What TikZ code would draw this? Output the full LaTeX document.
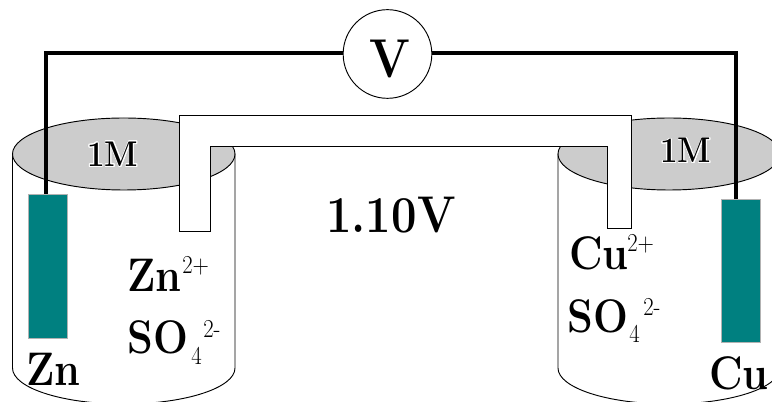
\documentclass[tikz,border=0pt]{standalone}
\usepackage{graphicx}
\usepackage{contour}
\contourlength{0.6pt}
\contournumber{24}
\newcommand{\tallbox}[1]{\scalebox{1}[1.14]{#1}}
\begin{document}
\begin{tikzpicture}[x=0.75pt,y=-0.75pt,
  lbl/.style={inner sep=0pt,anchor=base west,font=\bfseries\fontsize{31}{31}\selectfont},
  sup/.style={inner sep=0pt,anchor=base west,font=\fontsize{17}{17}\selectfont},
  mol/.style={inner sep=0pt,anchor=base west,font=\bfseries\fontsize{23.5}{24}\selectfont},
  beaker/.style={draw=black,line width=0.7pt,fill=white},
  soln/.style={draw=black,line width=0.7pt,fill=black!20},
  electrode/.style={draw=black!30,line width=0.5pt,fill=teal!100!black,inner sep=0pt,minimum width=29.25pt},
  wire/.style={draw=black,line width=2.3pt,line join=miter}]
\useasboundingbox (0,0) rectangle (772,402);
\clip (0,0) rectangle (772,402);
% beakers
\path[beaker] (12.5,154) -- (12.5,368) arc[start angle=180,end angle=0,x radius=111.25,y radius=36] -- (235,154) -- cycle;
\path[soln] (123.75,154) ellipse[x radius=111.25,y radius=36];
\path[beaker] (558,154) -- (558,368) arc[start angle=180,end angle=0,x radius=111,y radius=36] -- (780,154) -- cycle;
\path[soln] (669,154) ellipse[x radius=111,y radius=36];
% salt bridge
\path[draw=black,line width=0.7pt,fill=white] (179.5,115.5) -- (631.5,115.5) -- (631.5,228) -- (607,228) -- (607,146) -- (210.5,146) -- (210.5,231) -- (179.5,231) -- cycle;
% electrodes
\node[electrode,minimum height=108pt,anchor=north west] (zn) at (28,194.5) {};
\node[electrode,minimum height=107.5pt,anchor=north west] (cu) at (721,199) {};
% meter
\node[circle,draw=black,line width=0.7pt,fill=white,minimum size=66.5pt,inner sep=0pt] (v) at (387.5,54) {};
\node[inner sep=0pt,anchor=base,font=\bfseries\fontsize{36}{36}\selectfont] (vt) at (389.5,78) {\tallbox{V}};
\coordinate (zc) at (46,53);
\coordinate (cc) at (736,53);
\draw[wire] (v.west |- zc) -- (zc) -- (zc |- zn.north);
\draw[wire] (v.east |- cc) -- (cc) -- (cc |- cu.north);
% texts
\node[mol] (m1) at (87,166.5) {\contour{white}{\tallbox{1M}}};
\node[mol] (m2) at (660,163) {\contour{white}{\tallbox{1M}}};
\node[lbl,font=\bfseries\fontsize{34}{34}\selectfont] (volts) at (326,233) {\tallbox{1.10V}};
\node[lbl] (zi) at (127,292) {\tallbox{Zn}};
\node[sup] (zis) at (182,274) {\tallbox{2+}};
\node[lbl] (so1) at (127,354) {\tallbox{SO}};
\node[sup] (so1a) at (191,365) {\tallbox{4}};
\node[sup] (so1b) at (203,338) {\tallbox{2-}};
\node[lbl] (zl) at (26,386) {\tallbox{Zn}};
\node[lbl] (ci) at (569,270) {\tallbox{Cu}};
\node[sup] (cis) at (627,252) {\tallbox{2+}};
\node[lbl] (so2) at (567,333) {\tallbox{SO}};
\node[sup] (so2a) at (629,343) {\tallbox{4}};
\node[sup] (so2b) at (643,316) {\tallbox{2-}};
\node[lbl] (cl) at (709,390) {\tallbox{Cu}};
\end{tikzpicture}
\end{document}
